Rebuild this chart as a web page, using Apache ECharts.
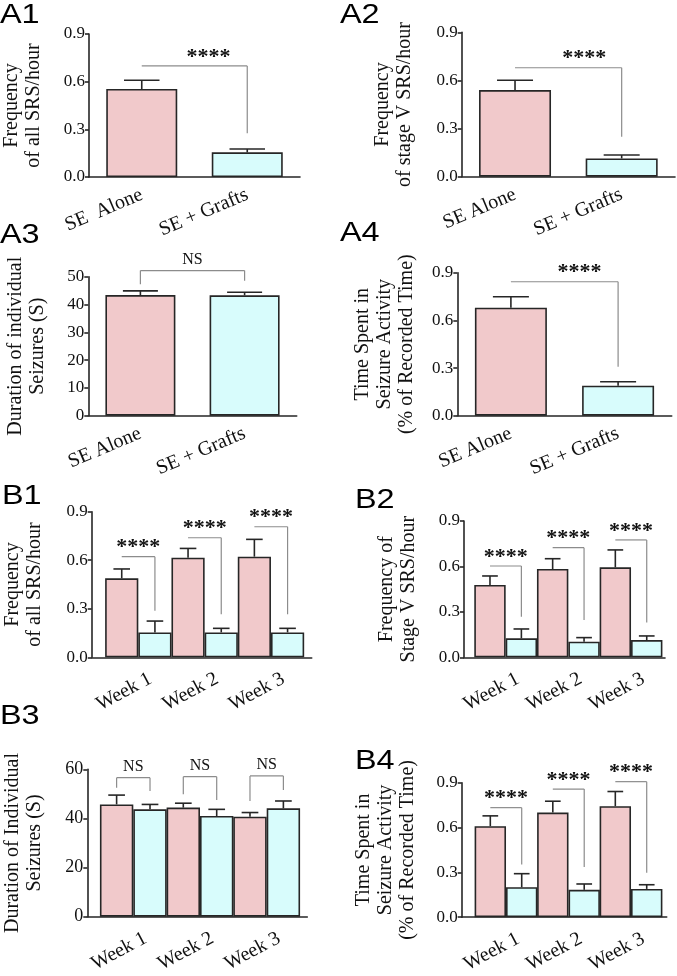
<!DOCTYPE html>
<html><head><meta charset="utf-8">
<script src="https://cdn.jsdelivr.net/npm/echarts@6/dist/echarts.min.js"></script>
<style>html,body{margin:0;padding:0;background:#fff}#c{width:677px;height:976px}</style>
</head><body><div id="c"></div>
<script>
// ---------- data ----------
const groupsA1 = ['SE  Alone', 'SE + Grafts'];
const groupsA = ['SE Alone', 'SE + Grafts'];
const weeks = ['Week 1', 'Week 2', 'Week 3'];
const weekPos = [1, 2, 3];

const a1Mean = [0.554, 0.155], a1Sem = [0.055, 0.021];
const a2Mean = [0.540, 0.114], a2Sem = [0.061, 0.021];
const a3Mean = [43.4, 43.3],   a3Sem = [1.5, 1.1];
const a4Mean = [0.680, 0.189], a4Sem = [0.069, 0.025];

const b1SeMean = [0.488, 0.616, 0.622], b1SeSem = [0.058, 0.057, 0.107];
const b1GrMean = [0.154, 0.154, 0.154], b1GrSem = [0.070, 0.025, 0.025];
const b2SeMean = [0.478, 0.583, 0.594], b2SeSem = [0.059, 0.068, 0.115];
const b2GrMean = [0.125, 0.103, 0.114], b2GrSem = [0.062, 0.027, 0.027];
const b3SeMean = [45.7, 44.4, 40.7],    b3SeSem = [3.8, 1.8, 1.7];
const b3GrMean = [43.7, 41.0, 44.1],    b3GrSem = [2.0, 2.7, 3.0];
const b4SeMean = [0.609, 0.700, 0.743], b4SeSem = [0.069, 0.076, 0.098];
const b4GrMean = [0.200, 0.183, 0.189], b4GrSem = [0.091, 0.039, 0.028];

// significance annotations (data units): label, bracket level, left/right drop ends
const a1Sig = ['****'], a1Top = [0.699], a1DropL = [null], a1DropR = [0.275];
const a2Sig = ['****'], a2Top = [0.679], a2DropL = [null], a2DropR = [0.249];
const a3Sig = ['NS'],   a3Top = [52.2],  a3DropL = [47.3], a3DropR = [48.5];
const a4Sig = ['****'], a4Top = [0.843], a4DropL = [null], a4DropR = [0.308];
const b1Sig = ['****', '****', '****'], b1Top = [0.622, 0.739, 0.807], b1DropL = [null, null, null], b1DropR = [0.288, 0.266, 0.266];
const b2Sig = ['****', '****', '****'], b2Top = [0.603, 0.724, 0.775], b2DropL = [null, null, null], b2DropR = [0.268, 0.246, 0.229];
const b3Sig = ['NS', 'NS', 'NS'],       b3Top = [56.6, 57.0, 57.3],    b3DropL = [52.5, 49.8, 47.1],   b3DropR = [51.2, 47.5, 51.6];
const b4Sig = ['****', '****', '****'], b4Top = [0.733, 0.857, 0.907], b4DropL = [null, null, null], b4DropR = [0.352, 0.335, 0.298];

// ---------- style / layout ----------
const SERIF = '"Liberation Serif","Times New Roman",serif';
const SANS = '"Liberation Sans",Arial,sans-serif';
const PINK = '#F1C9CB', CYAN = '#D8FCFC', EDGE = '#262626', BRK = '#8c8c8c', TXT = '#111';

const panelsA = [
  {label:'A1', lx:0, ly:2, grid:{left:87.7, top:34, width:212.3, height:143}, cats:groupsA1, mean:a1Mean, sem:a1Sem,
   sig:a1Sig, top:a1Top, dl:a1DropL, dr:a1DropR, max:0.9, step:0.3, dec:1, name:'Frequency\nof all SRS/hour', gap:44, barW:71, shift:14},
  {label:'A2', lx:340, ly:2, grid:{left:461.7, top:32.3, width:213.3, height:144.4}, cats:groupsA, mean:a2Mean, sem:a2Sem,
   sig:a2Sig, top:a2Top, dl:a2DropL, dr:a2DropR, max:0.9, step:0.3, dec:1, name:'Frequency\nof stage V SRS/hour', gap:46, barW:72, shift:16},
  {label:'A3', lx:0, ly:222, grid:{left:88.3, top:276.7, width:208.4, height:139}, cats:groupsA, mean:a3Mean, sem:a3Sem,
   sig:a3Sig, top:a3Top, dl:a3DropL, dr:a3DropR, max:50, step:10, dec:0, name:'Duration of individual\nSeizures (S)', gap:40, barW:70, shift:0},
  {label:'A4', lx:340, ly:220, grid:{left:457.3, top:272.7, width:214.4, height:143}, cats:groupsA, mean:a4Mean, sem:a4Sem,
   sig:a4Sig, top:a4Top, dl:a4DropL, dr:a4DropR, max:0.9, step:0.3, dec:1, name:'Time Spent in\nSeizure Activity\n(% of Recorded Time)', gap:40, barW:72, shift:15}
];
const panelsB = [
  {label:'B1', lx:2, ly:483, grid:{left:91.7, top:511.7, width:220, height:145.6}, xMin:0.297, xMax:3.614, barW:33.2,
   se:b1SeMean, seS:b1SeSem, gr:b1GrMean, grS:b1GrSem, sig:b1Sig, top:b1Top, dl:b1DropL, dr:b1DropR,
   max:0.9, step:0.3, dec:1, name:'Frequency\nof all SRS/hour', gap:46, tick:17},
  {label:'B2', lx:355, ly:487, grid:{left:464, top:521, width:201, height:136.3}, xMin:0.335, xMax:3.542, barW:31.4,
   se:b2SeMean, seS:b2SeSem, gr:b2GrMean, grS:b2GrSem, sig:b2Sig, top:b2Top, dl:b2DropL, dr:b2DropR,
   max:0.9, step:0.3, dec:1, name:'Frequency of\nStage V SRS/hour', gap:44, tick:17},
  {label:'B3', lx:0, ly:703, grid:{left:87.3, top:769.3, width:220, height:147.4}, xMin:0.310, xMax:3.609, barW:33.4,
   se:b3SeMean, seS:b3SeSem, gr:b3GrMean, grS:b3GrSem, sig:b3Sig, top:b3Top, dl:b3DropL, dr:b3DropR,
   max:60, step:20, dec:0, name:'Duration of Individual\nSeizures (S)', gap:42, tick:18},
  {label:'B4', lx:355, ly:748, grid:{left:461.7, top:782.7, width:205, height:138}, xMin:0.291, xMax:3.571, barW:31.4,
   se:b4SeMean, seS:b4SeSem, gr:b4GrMean, grS:b4GrSem, sig:b4Sig, top:b4Top, dl:b4DropL, dr:b4DropR,
   max:0.9, step:0.3, dec:1, name:'Time Spent in\nSeizure Activity\n(% of Recorded Time)', gap:43, tick:17}
];

const axisLineStyle = {color: EDGE, width: 1.6};

function yAxisFor(p, idx, tickSize) {
  return {
    type:'value', gridIndex:idx, min:0, max:p.max, interval:p.step,
    splitLine:{show:false},
    axisLine:{show:true, onZero:false, lineStyle:axisLineStyle},
    axisTick:{show:true, length:4, lineStyle:axisLineStyle},
    axisLabel:{margin:4, color:TXT, fontFamily:SERIF, fontSize:tickSize, formatter:v => v.toFixed(p.dec)},
    name:p.name, nameLocation:'middle', nameRotate:90, nameGap:p.gap,
    nameTextStyle:{fontFamily:SERIF, fontSize:20, lineHeight:22, color:TXT}
  };
}

function errSeries(idx, xs, means, sems, offPx, capPx) {
  return {
    type:'custom', xAxisIndex:idx, yAxisIndex:idx, z:4, clip:false, silent:true, animation:false,
    data: means.map((m, k) => [xs[k], m, m + sems[k]]),
    encode:{x:0, y:[1, 2]},
    renderItem:(params, api) => {
      const p0 = api.coord([api.value(0), api.value(1)]);
      const p1 = api.coord([api.value(0), api.value(2)]);
      const x = p0[0] + offPx;
      const st = {stroke:EDGE, lineWidth:1.6};
      return {type:'group', children:[
        {type:'line', shape:{x1:x, y1:p0[1], x2:x, y2:p1[1]}, style:st},
        {type:'line', shape:{x1:x - capPx / 2, y1:p1[1], x2:x + capPx / 2, y2:p1[1]}, style:st}
      ]};
    }
  };
}

function sigSeries(idx, xl, xr, p, offL, offR, shift) {
  return {
    type:'custom', xAxisIndex:idx, yAxisIndex:idx, z:5, clip:false, silent:true, animation:false,
    data: p.top.map((t, k) => [xl[k], t]),
    encode:{x:0, y:1},
    renderItem:(params, api) => {
      const k = params.dataIndex;
      const a = api.coord([xl[k], p.top[k]]), b = api.coord([xr[k], p.top[k]]);
      const x1 = a[0] + offL, x2 = b[0] + offR, y = a[1];
      const st = {stroke:BRK, lineWidth:1.2};
      const ch = [{type:'line', shape:{x1:x1, y1:y, x2:x2, y2:y}, style:st}];
      if (p.dl[k] != null) ch.push({type:'line', shape:{x1:x1, y1:y, x2:x1, y2:api.coord([xl[k], p.dl[k]])[1]}, style:st});
      if (p.dr[k] != null) ch.push({type:'line', shape:{x1:x2, y1:y, x2:x2, y2:api.coord([xr[k], p.dr[k]])[1]}, style:st});
      const isNS = p.sig[k] === 'NS';
      ch.push({type:'text', x:(x1 + x2) / 2 + shift, y: y + (isNS ? -3 : 2),
        style:{text:p.sig[k], fill:TXT, font:(isNS ? '16px ' : 'bold 22px ') + SERIF, align:'center', verticalAlign:'bottom'}});
      return {type:'group', children:ch};
    }
  };
}

const grids = [], xAxes = [], yAxes = [], series = [], graphics = [];

panelsA.forEach((p, i) => {
  grids.push(p.grid);
  xAxes.push({type:'category', gridIndex:i, data:p.cats, boundaryGap:true,
    axisTick:{show:false}, axisLine:{show:true, onZero:false, lineStyle:axisLineStyle},
    axisLabel:{interval:0, rotate:23, margin:17, color:TXT, fontFamily:SERIF, fontSize:20}});
  yAxes.push(yAxisFor(p, i, 17));
  series.push({type:'bar', xAxisIndex:i, yAxisIndex:i, barWidth:p.barW, silent:true, animation:false,
    itemStyle:{borderColor:EDGE, borderWidth:1.6},
    data:p.mean.map((v, k) => ({value:v, itemStyle:{color:k ? CYAN : PINK}}))});
  series.push(errSeries(i, [0, 1], p.mean, p.sem, 0, p.barW / 2));
  series.push(sigSeries(i, [0], [1], p, 0, 0, p.shift));
});

panelsB.forEach((p, j) => {
  const i = j + panelsA.length;
  grids.push(p.grid);
  xAxes.push({type:'value', gridIndex:i, min:p.xMin, max:p.xMax, splitLine:{show:false},
    axisTick:{show:false}, axisLine:{show:true, onZero:false, lineStyle:axisLineStyle},
    axisLabel:{customValues:weekPos, formatter:v => weeks[Math.round(v) - 1], rotate:28, margin:27,
      padding:[0, -14, 0, 0], color:TXT, fontFamily:SERIF, fontSize:20}});
  yAxes.push(yAxisFor(p, i, p.tick));
  const hw = p.barW / 2;
  series.push({type:'bar', xAxisIndex:i, yAxisIndex:i, barWidth:p.barW, barGap:'0%', silent:true, animation:false,
    itemStyle:{color:PINK, borderColor:EDGE, borderWidth:1.6},
    data:weekPos.map((w, k) => [w, p.se[k]])});
  series.push({type:'bar', xAxisIndex:i, yAxisIndex:i, barWidth:p.barW, barGap:'0%', silent:true, animation:false,
    itemStyle:{color:CYAN, borderColor:EDGE, borderWidth:1.6},
    data:weekPos.map((w, k) => [w, p.gr[k]])});
  series.push(errSeries(i, weekPos, p.se, p.seS, -hw, hw));
  series.push(errSeries(i, weekPos, p.gr, p.grS, hw, hw));
  series.push(sigSeries(i, weekPos, weekPos, p, -hw, hw, 0));
});

panelsA.concat(panelsB).forEach(p => {
  graphics.push({type:'text', x:p.lx, y:p.ly, scaleX:1.2, silent:true,
    style:{text:p.label, fill:'#000', font:'27px ' + SANS, align:'left', verticalAlign:'top'}});
});

const chart = echarts.init(document.getElementById('c'));
chart.setOption({
  animation:false,
  backgroundColor:'#fff',
  grid:grids, xAxis:xAxes, yAxis:yAxes, series:series, graphic:graphics
});
</script>
</body></html>
